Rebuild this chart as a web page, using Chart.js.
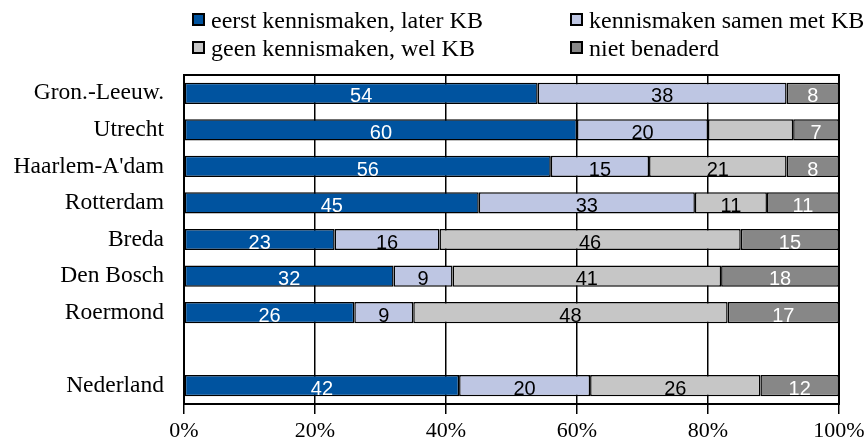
<!DOCTYPE html>
<html>
<head>
<meta charset="utf-8">
<script src="https://cdn.jsdelivr.net/npm/chart.js@4/dist/chart.umd.min.js"></script>
<style>
    html, body { margin: 0; padding: 0; background: #fff; }
    #wrap { position: relative; width: 868px; height: 445px; }
    .legend-item {
        position: absolute;
        font-family: 'Liberation Serif', 'Times New Roman', serif;
        font-size: 24px;
        line-height: 28px;
        color: #000;
        white-space: nowrap;
    }
    .legend-item .box {
        position: absolute;
        left: -19px;
        top: 7px;
        width: 9px;
        height: 9px;
        border: 2px solid #000;
    }
</style>
</head>
<body>
<div id="wrap">
    <canvas id="chart"></canvas>
    <div id="legend"></div>
</div>
<script>
// Categories (empty one gives the gap above Nederland)
const categories = ['Gron.-Leeuw.', 'Utrecht', "Haarlem-A'dam", 'Rotterdam', 'Breda', 'Den Bosch', 'Roermond', '', 'Nederland'];

// Percentages per series
const eerstLater = [54, 60, 56, 45, 23, 32, 26, null, 42];
const samenMet = [38, 20, 15, 33, 16, 9, 9, null, 20];
const geenWelKB = [0, 13, 21, 11, 46, 41, 48, null, 26];
const nietBenaderd = [8, 7, 8, 11, 15, 18, 17, null, 12];

const seriesNames = ['eerst kennismaken, later KB', 'kennismaken samen met KB', 'geen kennismaken, wel KB', 'niet benaderd'];
const xTicks = [0, 20, 40, 60, 80, 100];

// [series, category] pairs that carry no value label in the original
const hideLabel = [[2, 1]];

const colors = ['#00539F', '#BEC6E3', '#C6C6C6', '#878787'];
const labelColors = ['#fff', '#000', '#000', '#fff'];
const serif = "'Liberation Serif', 'Times New Roman', serif";

document.addEventListener('DOMContentLoaded', function() {
    buildLegend();
    drawChart();
});

function buildLegend() {
    const legend = document.getElementById('legend');
    // order: row 1 = series 0, 1; row 2 = series 2, 3
    const spots = [[211, 6], [589, 6], [211, 34], [589, 34]];
    legend.innerHTML = seriesNames
        .map((name, i) => `
            <div class="legend-item" style="left:${spots[i][0]}px; top:${spots[i][1]}px; font-family:${serif}">
                <span class="box" style="background:${colors[i]}"></span>${name}
            </div>`)
        .join('');
}

// Draw the numbers inside the bar segments
const valueLabels = {
    id: 'valueLabels',
    afterDatasetsDraw(chart) {
        const ctx = chart.ctx;
        const size = 20;
        ctx.save();
        ctx.font = size + 'px "Liberation Sans", Arial, sans-serif';
        ctx.textAlign = 'center';
        ctx.textBaseline = 'alphabetic';
        chart.data.datasets.forEach((ds, di) => {
            const meta = chart.getDatasetMeta(di);
            meta.data.forEach((bar, i) => {
                const v = ds.data[i];
                if (v === null || v === 0) return;
                if (hideLabel.some(h => h[0] === di && h[1] === i)) return;
                const p = bar.getCenterPoint();
                ctx.fillStyle = labelColors[di];
                ctx.fillText(String(v), p.x, p.y + size * 0.36 + 2);
            });
        });
        ctx.restore();
    }
};

// Frame round the plot area
const plotFrame = {
    id: 'plotFrame',
    afterDatasetsDraw(chart) {
        const a = chart.chartArea;
        const ctx = chart.ctx;
        ctx.save();
        ctx.strokeStyle = '#000';
        ctx.lineWidth = 2;
        ctx.strokeRect(a.left, a.top, a.right - a.left, a.bottom - a.top);
        ctx.restore();
    }
};

function drawChart() {
    const series = [eerstLater, samenMet, geenWelKB, nietBenaderd];
    const config = {
        type: 'bar',
        data: {
            labels: categories,
            datasets: series.map((data, i) => ({
                label: seriesNames[i],
                data: data,
                backgroundColor: colors[i],
                borderColor: '#000',
                borderWidth: 1.5,
                borderSkipped: false,
                barPercentage: 0.58,
                categoryPercentage: 1
            }))
        },
        options: {
            indexAxis: 'y',
            responsive: true,
            maintainAspectRatio: false,
            animation: false,
            layout: { padding: { top: 75, right: 29, left: 0, bottom: 0 } },
            plugins: {
                legend: { display: false },
                tooltip: { enabled: false }
            },
            scales: {
                x: {
                    stacked: true,
                    min: 0,
                    max: 100,
                    afterBuildTicks: scale => {
                        scale.ticks = xTicks.map(v => ({ value: v }));
                    },
                    afterFit: scale => {
                        scale.height = 41;
                        scale.paddingLeft = 0;
                        scale.paddingRight = 0;
                    },
                    grid: {
                        color: '#000',
                        lineWidth: 1.5,
                        drawTicks: true,
                        tickLength: 10
                    },
                    border: { display: true, color: '#000', width: 2 },
                    ticks: {
                        color: '#000',
                        padding: 4,
                        maxRotation: 0,
                        font: { family: serif, size: 22 },
                        callback: v => v + '%'
                    }
                },
                y: {
                    stacked: true,
                    afterFit: scale => {
                        scale.width = 184;
                        scale.paddingTop = 0;
                        scale.paddingBottom = 0;
                    },
                    grid: { display: false, drawTicks: false },
                    border: { display: true, color: '#000', width: 2 },
                    ticks: {
                        color: '#000',
                        padding: 20,
                        autoSkip: false,
                        font: { family: serif, size: 23.5 }
                    }
                }
            }
        },
        plugins: [valueLabels, plotFrame]
    };

    new Chart(document.getElementById('chart'), config);
}
</script>
</body>
</html>
